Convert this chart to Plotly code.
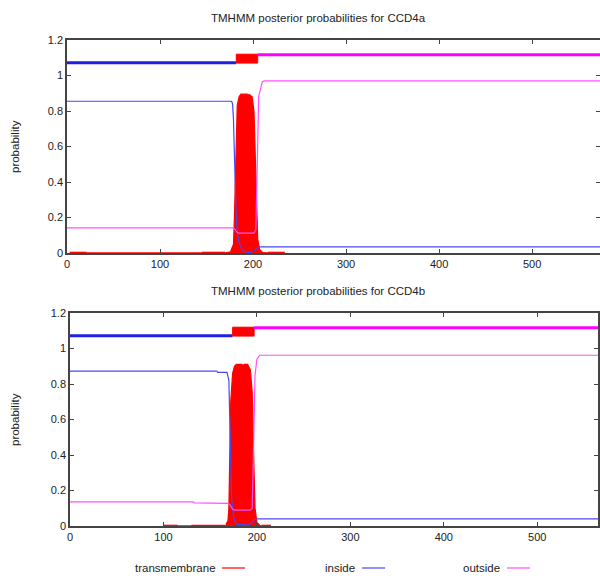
import plotly.graph_objects as go

# ---------------- data: CCD4a ----------------
a_in_x = [0, 177, 178, 179, 180, 181, 182, 183, 185, 188, 192, 197, 201, 204, 207, 573]
a_in_y = [0.855, 0.855, 0.84, 0.75, 0.55, 0.35, 0.2, 0.12, 0.06, 0.02, 0.005, 0.003, 0.01, 0.025, 0.035, 0.035]
a_out_x = [0, 179, 181, 183, 185, 201, 203, 204, 205, 206, 208, 210, 212, 573]
a_out_y = [0.142, 0.142, 0.13, 0.115, 0.112, 0.112, 0.13, 0.3, 0.6, 0.88, 0.93, 0.965, 0.97, 0.97]
a_tm_x = [3, 21, None, 145, 170, None,
          176, 179, 180, 181, 182, 183, 185, 187, 194.4, None, 195.6, 199, 201, 202, 203, 204, 205, 207, 210, None,
          216, 234]
a_tm_y = [0.004, 0.004, None, 0.004, 0.004, None,
          0.01, 0.05, 0.2, 0.45, 0.7, 0.83, 0.88, 0.895, 0.895, None, 0.895, 0.88, 0.8, 0.6, 0.4, 0.2, 0.08, 0.02, 0.005, None,
          0.004, 0.004]
a_topology = [(0, 182, "inside"), (182, 205, "transmembrane"), (205, 573, "outside")]

# ---------------- data: CCD4b ----------------
b_in_x = [0, 157, 158, 168, 170, 171, 172, 173, 175, 178, 190, 194, 197, 200, 565]
b_in_y = [0.872, 0.872, 0.866, 0.866, 0.82, 0.6, 0.35, 0.15, 0.05, 0.01, 0.005, 0.015, 0.035, 0.04, 0.04]
b_out_x = [0, 132, 133, 169, 171, 174, 176, 193, 195, 196, 197, 198, 200, 203, 565]
b_out_y = [0.136, 0.136, 0.13, 0.128, 0.12, 0.095, 0.09, 0.09, 0.1, 0.3, 0.6, 0.85, 0.94, 0.962, 0.962]
b_tm_x = [100, 115, None, 130, 166, None,
          167, 169, 170, 171, 172, 174, 176, 178, 184.4, None, 185.6, 190, 193, 195, 196, 197, 198, 200, 203, None,
          205, 215]
b_tm_y = [0.004, 0.004, None, 0.004, 0.004, None,
          0.01, 0.03, 0.1, 0.4, 0.7, 0.86, 0.9, 0.91, 0.91, None, 0.91, 0.91, 0.88, 0.75, 0.5, 0.25, 0.1, 0.02, 0.005, None,
          0.004, 0.004]
b_topology = [(0, 174, "inside"), (174, 197, "transmembrane"), (197, 565, "outside")]

titles = ["TMHMM posterior probabilities for CCD4a", "TMHMM posterior probabilities for CCD4b"]
x_ticks = [0, 100, 200, 300, 400, 500]
y_ticks = [0, 0.2, 0.4, 0.6, 0.8, 1, 1.2]
legend_names = ["transmembrane", "inside", "outside"]

# ---------------- styles ----------------
RED = "#ff0000"
BLUE = "#2020e0"
BLUE_THIN = "#4848f0"
MAG = "#ff00ff"
MAG_THIN = "#ff50ff"
TOPO_Y = {"inside": 1.072, "outside": 1.117}
TM_BOX = (1.07, 1.12)

fig = go.Figure()

panels = [
    dict(inx=a_in_x, iny=a_in_y, outx=a_out_x, outy=a_out_y, tmx=a_tm_x, tmy=a_tm_y, topo=a_topology,
         xa="x", ya="y", xr=[0, 573]),
    dict(inx=b_in_x, iny=b_in_y, outx=b_out_x, outy=b_out_y, tmx=b_tm_x, tmy=b_tm_y, topo=b_topology,
         xa="x2", ya="y2", xr=[0, 565]),
]

for p in panels:
    fig.add_trace(go.Scatter(x=p["tmx"], y=p["tmy"], mode="lines", fill="tozeroy",
                             fillcolor=RED, line=dict(color=RED, width=1.2),
                             connectgaps=False, showlegend=False, xaxis=p["xa"], yaxis=p["ya"]))
    fig.add_trace(go.Scatter(x=p["inx"], y=p["iny"], mode="lines",
                             line=dict(color=BLUE_THIN, width=1.2), showlegend=False,
                             xaxis=p["xa"], yaxis=p["ya"]))
    fig.add_trace(go.Scatter(x=p["outx"], y=p["outy"], mode="lines",
                             line=dict(color=MAG_THIN, width=1.2), showlegend=False,
                             xaxis=p["xa"], yaxis=p["ya"]))
    for s, e, kind in p["topo"]:
        if kind == "transmembrane":
            fig.add_trace(go.Scatter(x=[s, e, e, s, s],
                                     y=[TM_BOX[0], TM_BOX[0], TM_BOX[1], TM_BOX[1], TM_BOX[0]],
                                     mode="lines", fill="toself", fillcolor=RED,
                                     line=dict(color=RED, width=1), showlegend=False,
                                     xaxis=p["xa"], yaxis=p["ya"]))
        else:
            col = BLUE if kind == "inside" else MAG
            fig.add_trace(go.Scatter(x=[s, e], y=[TOPO_Y[kind], TOPO_Y[kind]], mode="lines",
                                     line=dict(color=col, width=3), showlegend=False,
                                     xaxis=p["xa"], yaxis=p["ya"]))

W, H = 600, 576
L, R, T, B = 67, 600, 40, 526
PW, PH = R - L, B - T
def px(v):
    return (v - L) / PW
def py(v):
    return (B - v) / PH

axis_common = dict(showline=True, linecolor="#444", linewidth=1.5, mirror="ticks",
                   ticks="inside", ticklen=4, tickcolor="#444", showgrid=False, zeroline=False,
                   automargin=False,
                   tickfont=dict(family="Liberation Sans, Arial", size=11, color="#222"))

fig.update_layout(
    width=W, height=H, margin=dict(l=L, r=W - R, t=T, b=H - B, pad=0, autoexpand=False),
    paper_bgcolor="white", plot_bgcolor="white", showlegend=False,
    xaxis=dict(domain=[0, 1], range=panels[0]["xr"], tickvals=x_ticks, anchor="y", **axis_common),
    yaxis=dict(domain=[py(253), 1], range=[0, 1.2], tickvals=y_ticks, anchor="x", **axis_common),
    xaxis2=dict(domain=[px(70), px(598)], range=panels[1]["xr"], tickvals=x_ticks, anchor="y2", **axis_common),
    yaxis2=dict(domain=[0, py(313)], range=[0, 1.2], tickvals=y_ticks, anchor="x2", **axis_common),
)

font_txt = dict(family="Liberation Sans, Arial", size=11.5, color="#222")
def note(x, y, text, **kw):
    args = dict(xanchor="center", yanchor="middle")
    args.update(kw)
    fig.add_annotation(x=px(x), y=py(y), xref="paper", yref="paper", text=text,
                       showarrow=False, font=font_txt, **args)

note(318, 18, titles[0])
note(318, 291, titles[1])
for yc in (147, 420):
    note(15, yc, "probability", textangle=-90)

leg_items = [(legend_names[0], RED, 218, 222), (legend_names[1], BLUE_THIN, 357, 362),
             (legend_names[2], MAG_THIN, 502, 507)]
for name, col, tx, lx in leg_items:
    note(tx, 568, name, xanchor="right")
    fig.add_shape(type="line", xref="paper", yref="paper", x0=px(lx), x1=px(lx + 23),
                  y0=py(568), y1=py(568), line=dict(color=col, width=1.2))

fig.write_html("out.html", post_script="document.body.style.margin='0';",
               config={"displayModeBar": False})
